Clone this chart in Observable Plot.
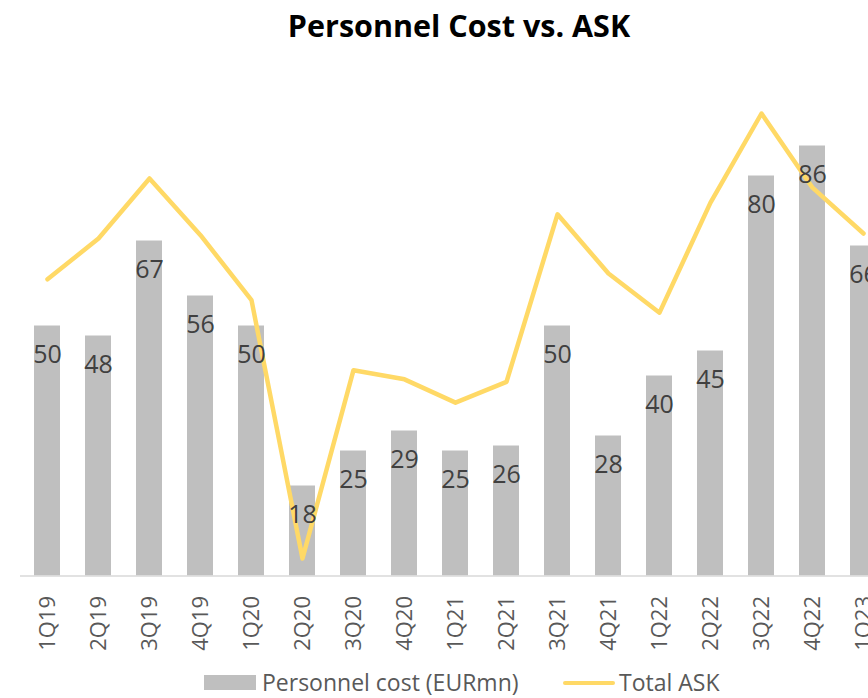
<!DOCTYPE html>
<html>
<head>
<meta charset="utf-8">
<script src="https://cdn.jsdelivr.net/npm/d3@7"></script>
<script src="https://cdn.jsdelivr.net/npm/@observablehq/plot@0.6"></script>
<style>
  html, body { margin: 0; padding: 0; background: #fff; overflow: hidden; }
  #chart { position: relative; width: 868px; height: 698px; overflow: hidden; font-family: "Open Sans", sans-serif; }
  #chart svg { position: absolute; left: 0; top: 0; overflow: hidden; background: transparent; }
  .title { position: absolute; left: 0; width: 918px; top: 10px; text-align: center; font-weight: bold; font-size: 30.5px; line-height: 30.5px; color: #000; white-space: nowrap; }
  .leg { position: absolute; font-size: 23px; line-height: 23px; color: #595959; white-space: nowrap; top: 670.5px; }
  .sw-bar { position: absolute; left: 204px; top: 675px; width: 52px; height: 15px; background: #BFBFBF; }
  .sw-line { position: absolute; left: 563px; top: 680.75px; width: 52px; height: 4.5px; border-radius: 2.25px; background: #FFD966; }
</style>
</head>
<body>
<div id="chart">
  <div class="title">Personnel Cost vs. ASK</div>
  <div class="sw-bar"></div>
  <div class="leg" style="left:262px">Personnel cost (EURmn)</div>
  <div class="sw-line"></div>
  <div class="leg" style="left:619px">Total ASK</div>
</div>
<script>
const quarters = ["1Q19","2Q19","3Q19","4Q19","1Q20","2Q20","3Q20","4Q20","1Q21","2Q21","3Q21","4Q21","1Q22","2Q22","3Q22","4Q22","1Q23"];
const personnelCost = [50, 48, 67, 56, 50, 18, 25, 29, 25, 26, 50, 28, 40, 45, 80, 86, 66];
const totalASK = [3560, 4050, 4770, 4090, 3310, 210, 2470, 2360, 2080, 2330, 4340, 3630, 3160, 4480, 5550, 4660, 4110];

const rows = quarters.map((q, i) => ({quarter: q, cost: personnelCost[i], ask: totalASK[i]}));

const W = 868, H = 698, plotTop = 75.5, plotBase = 575.5;
const common = {
  width: W, height: H,
  marginTop: plotTop, marginBottom: H - plotBase, marginLeft: 20, marginRight: 0,
  style: {background: "transparent", overflow: "hidden"}
};
const xScale = (axis) => ({
  type: "band", domain: quarters, range: [19.4, 889.8],
  paddingInner: 0.5, paddingOuter: 0.25,
  ...(axis ? {tickSize: 0, tickPadding: 20, tickRotate: -90, label: null} : {axis: null})
});

const barsPlot = Plot.plot({
  ...common,
  style: {background: "transparent", overflow: "hidden", color: "#595959", fontSize: "22px", fontFamily: "'Open Sans', sans-serif"},
  x: xScale(true),
  y: {domain: [0, 100], axis: null},
  marks: [
    Plot.barY(rows, {x: "quarter", y: "cost", fill: "#BFBFBF"}),
    Plot.ruleY([0], {stroke: "#D9D9D9", strokeWidth: 1.5})
  ]
});

const linePlot = Plot.plot({
  ...common,
  x: xScale(false),
  y: {domain: [0, 6000], axis: null},
  marks: [
    Plot.line(rows, {x: "quarter", y: "ask", stroke: "#FFD966", strokeWidth: 4.5, strokeLinejoin: "round", strokeLinecap: "round"})
  ]
});

const labelPlot = Plot.plot({
  ...common,
  x: xScale(false),
  y: {domain: [0, 100], axis: null},
  marks: [
    Plot.text(rows, {x: "quarter", y: "cost", text: d => String(d.cost), dy: 29, lineAnchor: "middle", fill: "#404040", fontSize: 25, fontFamily: "'Open Sans', sans-serif"})
  ]
});

const chart = document.getElementById("chart");
chart.appendChild(barsPlot);
chart.appendChild(linePlot);
chart.appendChild(labelPlot);
</script>
</body>
</html>
